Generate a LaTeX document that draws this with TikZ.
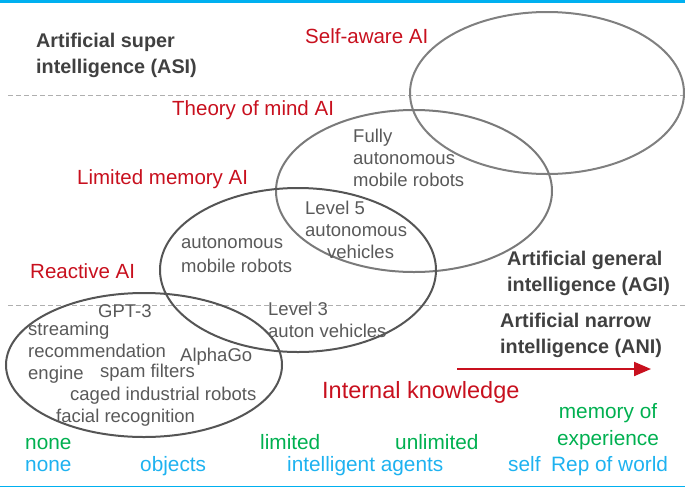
\documentclass[tikz,border=0pt]{standalone}
\usepackage{fontspec}
\setmainfont{Liberation Sans}
\usetikzlibrary{arrows.meta}
\definecolor{rulblue}{RGB}{0,176,240}
\definecolor{txtgray}{RGB}{89,89,89}
\definecolor{hdgray}{RGB}{64,64,64}
\definecolor{aired}{RGB}{200,16,30}
\definecolor{lvgreen}{RGB}{0,176,80}
\definecolor{lvblue}{RGB}{30,178,240}
\definecolor{dashgray}{RGB}{175,175,175}
\tikzset{
  txt/.style={inner sep=0pt, anchor=base west, align=left, text=txtgray, font=\fontsize{18.5}{22}\selectfont},
  heading/.style={inner sep=0pt, anchor=base west, align=left, text=hdgray, font=\bfseries\fontsize{19.8}{26}\selectfont},
  kind/.style={inner sep=0pt, anchor=base west, text=aired, font=\fontsize{20.5}{24}\selectfont},
  levg/.style={inner sep=0pt, anchor=base west, text=lvgreen, font=\fontsize{20.8}{27}\selectfont},
  levb/.style={inner sep=0pt, anchor=base west, text=lvblue, font=\fontsize{20.8}{27}\selectfont},
  divider/.style={dashgray, line width=1pt, dash pattern=on 5pt off 3pt},
  ring/.style={line width=2pt},
}
\begin{document}
\begin{tikzpicture}[x=1pt,y=-1pt]
\useasboundingbox (0,0) rectangle (685,488);

% frame rules
\draw[rulblue, line width=2.5pt] (0,1.5) -- (685,1.5);
\draw[rulblue, line width=1.5pt] (0,486.5) -- (685,486.5);

% band dividers
\draw[divider] (8,95) -- (685,95);
\draw[divider] (8,305) -- (685,305);

% capability ellipses
\draw[ring, draw={rgb,255:red,128;green,128;blue,128}] (547,93) ellipse [x radius=137pt, y radius=81pt];
\draw[ring, draw={rgb,255:red,122;green,122;blue,122}] (414,191) ellipse [x radius=138pt, y radius=81pt];
\draw[ring, draw={rgb,255:red,85;green,85;blue,85}] (298,270) ellipse [x radius=138pt, y radius=82pt];
\draw[ring, draw={rgb,255:red,85;green,85;blue,85}] (144,365) ellipse [x radius=138pt, y radius=72pt];

% intelligence classes (multi-line nodes sit on the baseline of their last line)
\node[heading] (asi) at (36,73) {Artificial super\\intelligence (ASI)};
\node[heading] (agi) at (507,291) {Artificial general\\intelligence (AGI)};
\node[heading] (ani) at (500,353) {Artificial narrow\\intelligence (ANI)};

% functionality types
\node[kind] (selfaware) at (305,43) {Self-aware AI};
\node[kind] (theory) at (172,115) {Theory of mind AI};
\node[kind] (limited) at (77,184) {Limited memory AI};
\node[kind] (reactive) at (30,278) {Reactive AI};

% examples
\node[txt] (fully) at (353,186) {Fully\\autonomous\\mobile robots};
\node[txt] (lvlfive) at (305,258) {Level 5\\autonomous\\\hspace*{22pt}vehicles};
\node[txt, font=\fontsize{18.5}{24}\selectfont] (amr) at (181,272) {autonomous\\mobile robots};
\node[txt] (gpt) at (98,317) {GPT-3};
\node[txt] (lvlthree) at (268,337) {Level 3\\auton vehicles};
\node[txt] (stream) at (28,379) {streaming\\recommendation\\engine};
\node[txt] (alphago) at (180,361) {AlphaGo};
\node[txt] (spam) at (100,377) {spam filters};
\node[txt] (caged) at (70,400) {caged industrial robots};
\node[txt] (facial) at (56,422) {facial recognition};

% knowledge axis
\node[inner sep=0pt, anchor=base west, text=aired, font=\fontsize{23.5}{28}\selectfont] (know) at (322,398) {Internal knowledge};
\coordinate (arrS) at (457,369);
\coordinate (arrE) at (651,369);
\draw[aired, line width=2pt, -{Triangle[length=17pt,width=14pt]}] (arrS) -- (arrE);

% memory and representation levels
\node[levg] (memnone) at (25,449) {none};
\node[levb] (repnone) at (25,471) {none};
\node[levb] (objects) at (140,471) {objects};
\node[levg] (memlim) at (260,449) {limited};
\node[levb] (agents) at (287,471) {intelligent agents};
\node[levg] (memunl) at (395,449) {unlimited};
\node[levb] (self) at (508,471) {self};
\node[levb] (world) at (551,471) {Rep of world};
\node[inner sep=0pt, anchor=base, align=center, text=lvgreen, font=\fontsize{20.8}{27}\selectfont] (memexp) at (608,445) {memory of\\experience};
\end{tikzpicture}
\end{document}
